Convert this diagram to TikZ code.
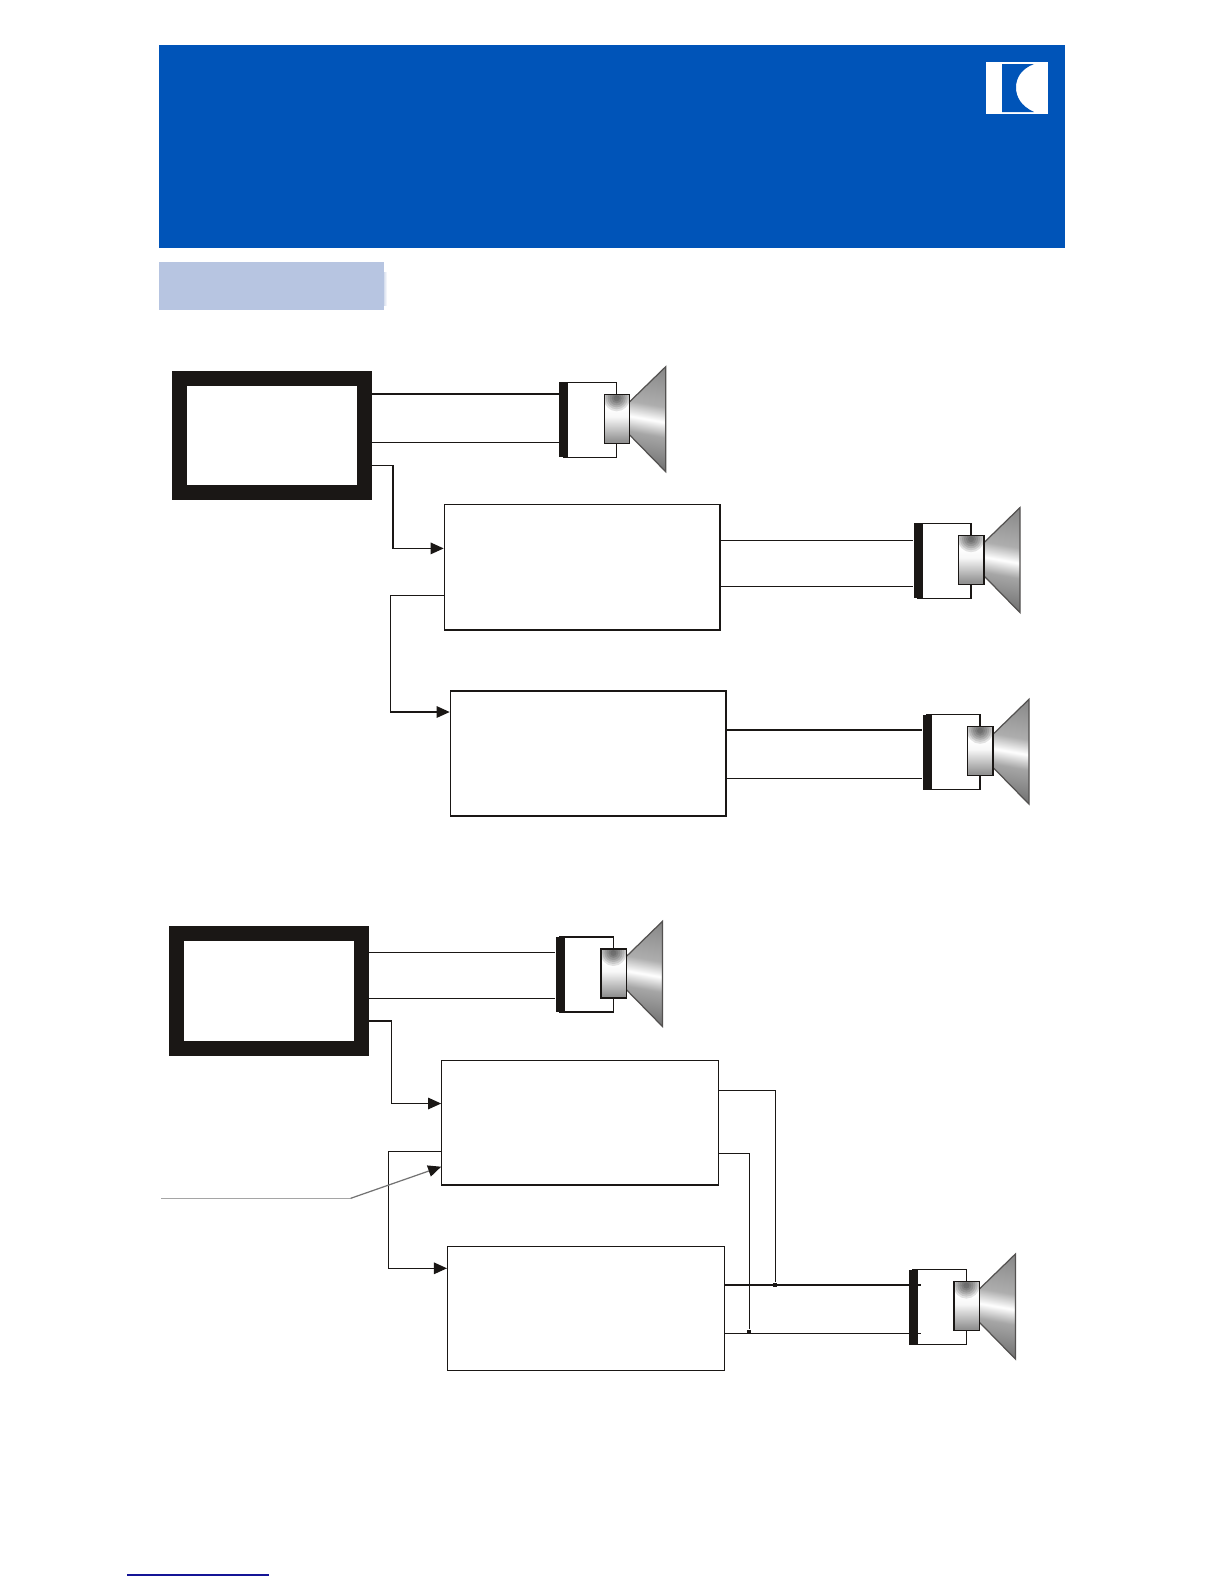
\documentclass[tikz,border=0pt]{standalone}
\usetikzlibrary{arrows.meta}
\definecolor{SpkBlue}{RGB}{0,84,184}
\definecolor{SpkBand}{RGB}{183,197,225}
\definecolor{SpkBlack}{RGB}{26,23,21}
\definecolor{SpkGray}{RGB}{165,165,165}
\definecolor{SpkLink}{RGB}{20,20,150}
\pgfdeclareverticalshading{spkmagnet}{100bp}{
  color(0bp)=(black!62); color(28bp)=(black!42); color(52bp)=(black!3);
  color(62bp)=(white); color(72bp)=(black!12); color(100bp)=(black!38)}
\pgfdeclareverticalshading{spkcone}{100bp}{
  color(0bp)=(black!68); color(25bp)=(black!55); color(42bp)=(black!35);
  color(50bp)=(white); color(58bp)=(black!32); color(80bp)=(black!48); color(100bp)=(black!58)}
\tikzset{
  spk/hdr/.style={draw=none, fill=SpkBlue, inner sep=0pt},
  spk/band/.style={draw=none, fill=SpkBand, inner sep=0pt},
  spk/frame/.style={draw=SpkBlack, line width=0.15cm, fill=white, inner sep=0pt, minimum width=1.85cm, minimum height=1.14cm},
  spk/box/.style={draw=SpkBlack, line width=0.35pt, fill=white, inner sep=0pt},
  spk/bar/.style={draw=none, fill=SpkBlack, inner sep=0pt, minimum width=0.09cm, minimum height=0.75cm},
  spk/dot/.style={draw=none, fill=SpkBlack, inner sep=0pt, minimum size=0.04cm},
  spk/wire/.style={draw=SpkBlack, line width=0.35pt},
  spk/arrow/.style={-{Triangle[length=0.13cm,width=0.115cm,color=SpkBlack]}, draw=SpkBlack, line width=0.35pt},
  spk/unit/.pic={
    \draw[spk/wire] (4,0) rectangle (57.4,75);
    \node[spk/bar] (-bar) at (4.5,37.5) {};
    \path[shading=spkcone, shading angle=-10] (70.4,19.4) -- (106.4,-15.6) -- (106.4,89.4) -- (70.4,52.7) -- cycle;
    \draw[SpkBlack!75, line width=0.35pt] (70.4,19.4) -- (106.4,-15.6) -- (106.4,89.4) -- (70.4,52.7);
    \path[shading=spkmagnet] (45,12) rectangle (70.4,61);
    \begin{scope}
      \clip (45,12) rectangle (70.4,61);
      \foreach \r in {3,5,...,13}
        \fill[black, opacity=.11] (57.4,16) circle (\r*0.01cm);
    \end{scope}
    \draw[spk/wire] (45,12) rectangle (70.4,61);
  }
}
\begin{document}
\begin{tikzpicture}[x=0.01cm,y=-0.01cm]
  \useasboundingbox (0,0) rectangle (1224,1584);
  % header and logo
  \node[spk/hdr,minimum width=9.05cm,minimum height=2.03cm] (hdr) at (612,146.5) {};
  \node[draw=none,fill=white,inner sep=0pt,minimum width=0.62cm,minimum height=0.52cm] (logo) at (1017,88) {};
  \fill[SpkBlue] (1002,64) -- (1034,64) .. controls (1021,69) and (1016,78) .. (1016,87.5)
    .. controls (1016,97) and (1021,106) .. (1034,112) -- (1002,112) -- cycle;
  \node[spk/band,minimum width=2.25cm,minimum height=0.48cm] (band) at (271.5,286) {};
  \fill[left color=SpkBand!55,right color=white,draw=none] (384,272) rectangle (387,305);

  % upper diagram
  \node[spk/frame] (amp1) at (272,435.5) {};
  \node[spk/box,minimum width=2.756cm,minimum height=1.255cm] (box2) at (582.2,567.3) {};
  \node[spk/box,minimum width=2.756cm,minimum height=1.25cm] (box3) at (588.2,753.5) {};
  \pic (sp1) at (559.3,382.3) {spk/unit};
  \pic (sp2) at (913.6,523.2) {spk/unit};
  \pic (sp3) at (922.7,714.8) {spk/unit};
  \draw[spk/wire] (amp1.east |- 0,394) -- (sp1-bar.west |- 0,394);
  \draw[spk/wire] (amp1.east |- 0,442.4) -- (sp1-bar.west |- 0,442.4);
  \draw[spk/wire] (box2.east |- 0,540.3) -- (sp2-bar.west |- 0,540.3);
  \draw[spk/wire] (box2.east |- 0,586.8) -- (sp2-bar.west |- 0,586.8);
  \draw[spk/wire] (box3.east |- 0,730) -- (sp3-bar.west |- 0,730);
  \draw[spk/wire] (box3.east |- 0,778.6) -- (sp3-bar.west |- 0,778.6);
  \draw[spk/arrow] (amp1.east |- 0,465.6) -- (393,465.6) -- (393,548.4) -- (box2.west |- 0,548.4);
  \draw[spk/arrow] (box2.west |- 0,595.8) -- (390.8,595.8) -- (390.8,712) -- (box3.west |- 0,712);

  % lower diagram
  \node[spk/frame] (amp2) at (269.3,991) {};
  \node[spk/box,minimum width=2.763cm,minimum height=1.246cm] (box4) at (580,1122.7) {};
  \node[spk/box,minimum width=2.77cm,minimum height=1.24cm] (box5) at (586.2,1308.5) {};
  \pic (sp4) at (556,937) {spk/unit};
  \pic (sp5) at (909,1269.6) {spk/unit};
  \draw[spk/wire] (amp2.east |- 0,952.3) -- (sp4-bar.west |- 0,952.3);
  \draw[spk/wire] (amp2.east |- 0,998.8) -- (sp4-bar.west |- 0,998.8);
  \draw[spk/arrow] (amp2.east |- 0,1021) -- (391.7,1021) -- (391.7,1103.5) -- (box4.west |- 0,1103.5);
  \draw[spk/arrow] (box4.west |- 0,1151.3) -- (388.3,1151.3) -- (388.3,1268.3) -- (box5.west |- 0,1268.3);
  \coordinate (note1) at (161,1198.3);
  \coordinate (note2) at (350.7,1198.3);
  \draw[SpkGray,line width=0.35pt] (note1) -- (note2);
  \draw[spk/arrow,draw=black!55] (note2) -- (box4.west |- 0,1166.7);
  \node[spk/dot] (dot1) at (775.3,1284.7) {};
  \node[spk/dot] (dot2) at (749.4,1332) {};
  \draw[spk/wire] (box4.east |- 0,1090.7) -| (dot1);
  \draw[spk/wire] (box4.east |- 0,1153.3) -| (dot2);
  \draw[spk/wire] (box5.east |- 0,1285) -- (sp5-bar.east |- 0,1285) -- ++(2,0);
  \draw[spk/wire] (box5.east |- 0,1333.3) -- (sp5-bar.east |- 0,1333.3) -- ++(2,0);

  \node[draw=none,fill=SpkLink,inner sep=0pt,minimum width=1.42cm,minimum height=0.012cm] (link) at (198,1575) {};
\end{tikzpicture}
\end{document}
